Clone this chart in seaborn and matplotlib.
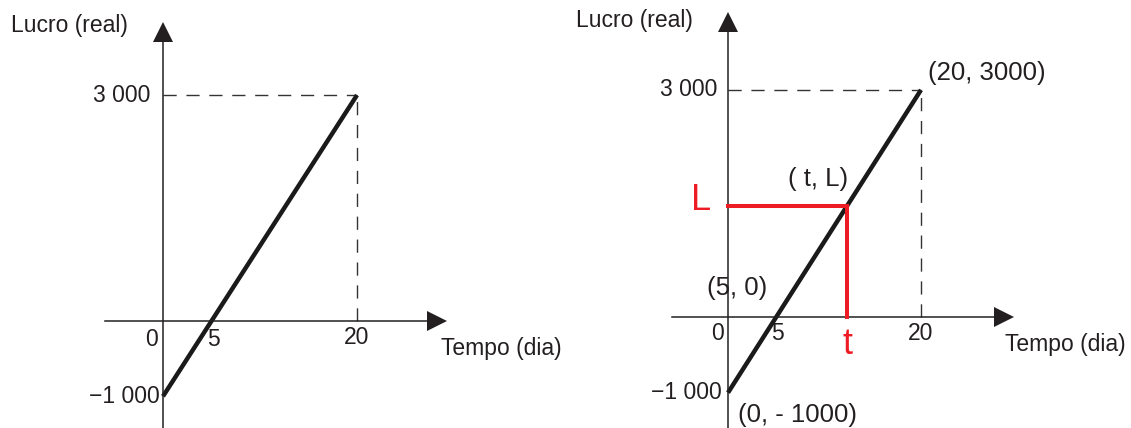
import matplotlib
matplotlib.use('Agg')
import matplotlib.pyplot as plt
import seaborn as sns

# dados do gráfico
dias = [0, 20]
lucro = [-1000, 3000]
raiz = 5
rotulos_x = ['5', '20']
rotulos_y = ['3 000', '\u22121 000']
t_ponto = 12.3
L_ponto = 1460

W, H = 1131, 428
INK = '#231f20'
RED = '#ed1c24'

sns.set_theme(style='white')
plt.rcParams['font.family'] = ['Liberation Sans', 'DejaVu Sans']

fig = plt.figure(figsize=(W / 100, H / 100), dpi=100)


def make_axes(ox, oy0, sx, sy, xlim, ylim):
    """axes placed so that data (0, 0) lands on pixel (ox, oy0)"""
    left = ox + xlim[0] * sx
    right = ox + xlim[1] * sx
    top = oy0 - ylim[1] * sy
    bottom = oy0 - ylim[0] * sy
    ax = fig.add_axes([left / W, 1 - bottom / H, (right - left) / W, (bottom - top) / H])
    ax.set_xlim(xlim)
    ax.set_ylim(ylim)
    ax.patch.set_alpha(0)
    for s in ['top', 'right']:
        ax.spines[s].set_visible(False)
    for s in ['left', 'bottom']:
        ax.spines[s].set_position(('data', 0))
        ax.spines[s].set_color(INK)
        ax.spines[s].set_linewidth(1.1)
    ax.set_xticks([])
    ax.set_yticks([])
    ax.plot(1, 0, '>', color=INK, ms=14, mew=0, transform=ax.get_yaxis_transform(), clip_on=False)
    ax.plot(0, 1, '^', color=INK, ms=14, mew=0, transform=ax.get_xaxis_transform(), clip_on=False)
    return ax


def label(ax, s, xy, off, size=16.5, color=INK, ha='center', va='center'):
    ax.annotate(s, xy=xy, xytext=off, textcoords='offset pixels', ha=ha, va=va,
                fontsize=size, color=color, annotation_clip=False)


def base_panel(ax):
    ax.hlines(lucro[1], 0, dias[1], colors='#333333', linewidth=1.0, linestyles=(0, (9.5, 7)))
    ax.vlines(dias[1], 0, lucro[1], colors='#333333', linewidth=1.0, linestyles=(0, (9.5, 7)))
    sns.lineplot(x=dias, y=lucro, ax=ax, color='#1a1a1a', linewidth=3.2,
                 solid_capstyle='butt', legend=False)


# painel esquerdo
ax1 = make_axes(163, 321, 9.7, 0.0753, (-6.0, 28.25), (-1420, 3840))
base_panel(ax1)
label(ax1, '0', (0, 0), (-11, -18))
label(ax1, rotulos_x[0], (raiz, 0), (2, -18))
label(ax1, rotulos_x[1], (dias[1], 0), (0, -16))
label(ax1, rotulos_y[0], (0, lucro[1]), (-13, 0), ha='right')
label(ax1, rotulos_y[1], (0, lucro[0]), (-3, 0), ha='right')
label(ax1, 'Tempo (dia)', (dias[1], 0), (84, -28), ha='left')
label(ax1, 'Lucro (real)', (0, lucro[1]), (-94, 70))

# painel direito
ax2 = make_axes(728, 317, 9.65, 0.0757, (-5.8, 28.6), (-1465, 3897))
base_panel(ax2)
ax2.hlines(L_ponto, 0, t_ponto, colors=RED, linewidth=2.9, capstyle='projecting', zorder=4)
ax2.vlines(t_ponto, 0, L_ponto, colors=RED, linewidth=2.9, capstyle='projecting', zorder=4)
label(ax2, '0', (0, 0), (-11, -16))
label(ax2, rotulos_x[0], (raiz, 0), (1, -16))
label(ax2, rotulos_x[1], (dias[1], 0), (0, -16))
label(ax2, rotulos_y[0], (0, lucro[1]), (-11, 0), ha='right')
label(ax2, rotulos_y[1], (0, lucro[0]), (-6, 0), ha='right')
label(ax2, 'Tempo (dia)', (dias[1], 0), (84, -27), ha='left')
label(ax2, 'Lucro (real)', (0, lucro[1]), (-94, 69))
label(ax2, 't', (t_ponto, 0), (1, -28), size=26, color=RED)
label(ax2, 'L', (0, L_ponto), (-27, 6), size=26, color=RED)
label(ax2, '( t, L)', (t_ponto, L_ponto), (-59, 27), size=18.5, ha='left')
label(ax2, '(20, 3000)', (dias[1], lucro[1]), (7, 17), size=18.5, ha='left')
label(ax2, '(5, 0)', (raiz, 0), (-69, 29), size=18.5, ha='left')
label(ax2, '(0, - 1000)', (dias[0], lucro[0]), (10, -22), size=18.5, ha='left')

fig.savefig('out.png', dpi=100)
